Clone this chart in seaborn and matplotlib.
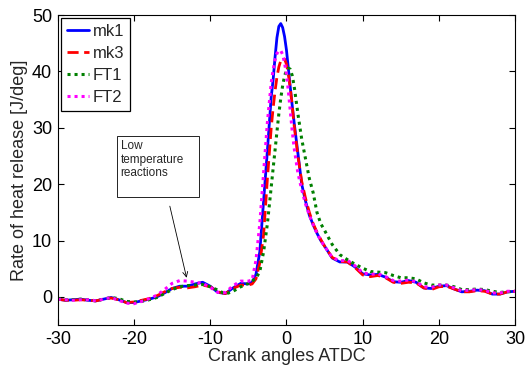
import pandas as pd
import seaborn as sns
import matplotlib
matplotlib.use("Agg")
import matplotlib.pyplot as plt
from matplotlib.patches import Rectangle

# crank angle grid (deg ATDC)
angle = [-30, -29, -28, -27, -26, -25, -24, -23, -22, -21, -20, -19, -18, -17, -16,
         -15, -14, -13, -12, -11, -10, -9, -8, -7, -6,
         -5, -4.5, -4, -3.5, -3, -2.5,
         -2, -1.75, -1.5, -1.25, -1, -0.75, -0.5, -0.25, 0, 0.25, 0.5, 0.75, 1,
         1.5, 2, 2.5, 3, 3.5, 4, 4.5, 5,
         6, 7, 8, 9, 10, 11, 12, 13, 14, 15, 16, 17, 18, 19, 20, 21, 22, 23, 24,
         25, 26, 27, 28, 29, 30]

mk1 = [-0.4, -0.6, -0.5, -0.4, -0.6, -0.7, -0.4, -0.1, -0.5, -1.0, -1.0, -0.7, -0.4, 0.0, 0.7,
       1.5, 1.9, 1.9, 2.3, 2.6, 1.9, 0.8, 0.6, 1.6, 2.4,
       2.3, 2.6, 4.0, 8.0, 17.0, 26.0,
       35.5, 38.5, 42.5, 46.0, 48.0, 48.5, 47.8, 46.2, 43.8, 40.5, 37.2, 34.0, 31.0,
       25.5, 20.0, 17.0, 14.5, 12.8, 11.3, 10.0, 9.0,
       6.9, 6.2, 6.2, 5.3, 4.1, 3.9, 4.0, 3.5, 2.7, 2.6, 2.9, 2.6, 1.6, 1.5, 1.9, 2.0, 1.4, 0.9, 1.0,
       1.2, 1.1, 0.5, 0.5, 0.9, 1.0]

mk3 = [-0.4, -0.6, -0.6, -0.5, -0.6, -0.7, -0.4, -0.2, -0.5, -1.0, -0.9, -0.6, -0.3, 0.2, 0.9,
       1.5, 1.7, 1.6, 1.8, 2.1, 1.8, 0.9, 0.6, 1.5, 2.1,
       2.1, 2.3, 3.2, 6.0, 11.0, 21.0,
       30.0, 33.5, 36.5, 39.0, 40.8, 41.9, 42.3, 42.2, 41.3, 39.5, 37.0, 34.0, 30.5,
       25.0, 20.5, 17.5, 15.0, 13.0, 11.5, 10.2, 9.0,
       7.0, 6.3, 6.2, 5.2, 3.9, 3.6, 3.8, 3.4, 2.6, 2.4, 2.6, 2.5, 1.6, 1.3, 1.8, 1.9, 1.4, 0.9, 0.9,
       1.1, 1.0, 0.5, 0.5, 0.9, 1.0]

ft1 = [-0.3, -0.5, -0.5, -0.4, -0.5, -0.7, -0.4, -0.1, -0.3, -0.8, -0.9, -0.8, -0.5, -0.1, 0.6,
       1.3, 1.8, 2.0, 2.1, 2.2, 1.8, 1.2, 0.5, 1.0, 1.8,
       2.4, 2.8, 3.3, 4.5, 8.0, 13.0,
       19.5, 22.8, 26.0, 29.3, 32.5, 35.2, 37.5, 39.2, 40.2, 40.6, 40.4, 39.3, 37.5,
       32.5, 28.0, 24.5, 21.0, 18.5, 15.0, 13.0, 11.8,
       9.3, 7.5, 6.6, 5.8, 5.1, 4.5, 4.4, 4.3, 3.8, 3.4, 3.4, 3.2, 2.5, 2.1, 2.1, 2.1, 1.8, 1.3, 1.3,
       1.4, 1.3, 1.0, 0.8, 0.9, 1.0]

ft2 = [-0.4, -0.5, -0.6, -0.5, -0.5, -0.7, -0.4, -0.1, -0.6, -1.1, -1.2, -0.8, -0.3, 0.3, 1.3,
       2.4, 2.9, 2.8, 2.6, 2.4, 1.7, 0.8, 0.8, 2.0, 2.8,
       2.8, 3.0, 6.5, 13.0, 22.0, 31.0,
       38.0, 40.3, 42.0, 43.2, 43.7, 43.7, 43.0, 41.5, 39.5, 36.5, 33.0, 29.5, 26.5,
       22.0, 19.0, 16.5, 14.5, 12.8, 11.3, 10.0, 9.0,
       7.0, 6.4, 6.5, 5.5, 4.3, 4.0, 4.1, 3.6, 2.9, 2.8, 3.0, 2.7, 1.8, 1.7, 2.1, 2.1, 1.6, 1.1, 1.2,
       1.3, 1.2, 0.7, 0.7, 1.0, 1.0]

series = {"mk1": mk1, "mk3": mk3, "FT1": ft1, "FT2": ft2}
styles = {
    "mk1": dict(color="#0000ff", linestyle="-", linewidth=2.0),
    "mk3": dict(color="#ff0000", linestyle=(0, (4, 2)), linewidth=2.0),
    "FT1": dict(color="#008000", linestyle=(0, (1, 1.3)), linewidth=2.2),
    "FT2": dict(color="#ff00ff", linestyle=(0, (1, 1.3)), linewidth=2.2),
}

df = pd.DataFrame({"angle": angle, **series})

sns.set_style("ticks")
plt.rcParams["font.family"] = ["Liberation Sans", "DejaVu Sans"]
plt.rcParams["axes.unicode_minus"] = False

fig, ax = plt.subplots(figsize=(5.3, 3.69), dpi=100)
fig.subplots_adjust(left=0.109, right=0.972, top=0.959, bottom=0.119)

for name in series:
    sns.lineplot(data=df, x="angle", y=name, ax=ax, label=name, sort=False,
                 **styles[name])

ax.set_xlim(-30, 30)
ax.set_ylim(-5, 50)
ax.set_xticks([-30, -20, -10, 0, 10, 20, 30])
ax.set_yticks([0, 10, 20, 30, 40, 50])
ax.tick_params(direction="in", top=True, right=True, labelsize=13, length=4,
               width=0.8, colors="black", pad=4)
for s in ax.spines.values():
    s.set_visible(True)
    s.set_linewidth(0.8)
    s.set_color("black")

ax.set_xlabel("Crank angles ATDC", fontsize=13, labelpad=0)
ax.set_ylabel("Rate of heat release [J/deg]", fontsize=13, labelpad=3)

leg = ax.legend(loc="upper left", fontsize=12, frameon=True, fancybox=False,
                framealpha=1, edgecolor="black", handlelength=1.35,
                handletextpad=0.2, borderpad=0.35, labelspacing=0.42,
                borderaxespad=0.2)
leg.get_frame().set_linewidth(0.9)

# text box for the low temperature reactions
ax.add_patch(Rectangle((-22.25, 17.7), 10.75, 10.9, fill=True, fc="white",
                       ec="black", lw=0.6, zorder=5))
ax.text(-21.75, 21.4, "Low\ntemperature\nreactions", fontsize=8.5, va="baseline",
        ha="left", linespacing=1.2, zorder=6)
ax.annotate("", xy=(-13.1, 3.4), xytext=(-15.3, 16.1),
            arrowprops=dict(arrowstyle="->", color="black", lw=0.6,
                            mutation_scale=9, shrinkA=0, shrinkB=0))

fig.savefig("out.png", dpi=100)
